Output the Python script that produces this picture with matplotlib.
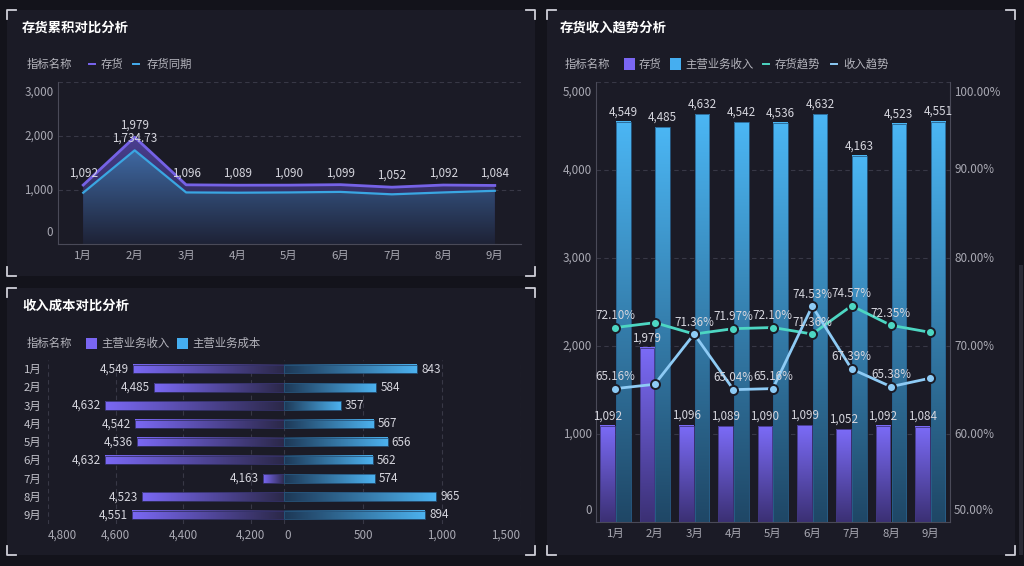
import numpy as np
import matplotlib
matplotlib.use("Agg")
import matplotlib.pyplot as plt
from matplotlib.colors import to_rgba
from matplotlib.patches import Rectangle, Polygon
from matplotlib.lines import Line2D

plt.rcParams['font.family'] = ['Noto Sans CJK SC', 'DejaVu Sans']

W, H = 1024, 566

# ---- данные ----
months = [f"{i}月" for i in range(1, 10)]
inventory = [1092, 1979, 1096, 1089, 1090, 1099, 1052, 1092, 1084]
inventory_ly = [950, 1734.73, 955, 950, 955, 965, 920, 955, 985]
inventory_ly_labels = {1: "1,734.73"}            # остальные подписи скрыты (перекрытие)
revenue = [4549, 4485, 4632, 4542, 4536, 4632, 4163, 4523, 4551]
cost = [843, 584, 357, 567, 656, 562, 574, 965, 894]
inv_trend = [72.10, 72.65, 71.36, 71.97, 72.10, 71.36, 74.57, 72.35, 71.55]
rev_trend = [65.16, 65.65, 71.36, 65.04, 65.16, 74.53, 67.39, 65.38, 66.35]
inv_trend_shown = [0, 2, 3, 4, 5, 6, 7]
rev_trend_shown = [0, 3, 4, 5, 6, 7]

tl_yticks = [0, 1000, 2000, 3000]
bl_left_ticks = [4800, 4600, 4400, 4200]
bl_right_ticks = [0, 500, 1000, 1500]
r_yticks = [0, 1000, 2000, 3000, 4000, 5000]
r_pticks = [50, 60, 70, 80, 90, 100]

BG, PANEL = '#13131b', '#1b1b26'
GRID, SPINE = '#383846', '#4a4a58'
TICK, LABEL, LEG = '#a9a9b3', '#d6d6de', '#b4b4bc'
PURPLE, BLUE, TEAL, LBLUE = '#7a66f2', '#45aef0', '#4dd6c2', '#8ecbf5'
PT = 0.72  # px -> pt при dpi=100
FS = 8.4   # подписи значений и осей

fig = plt.figure(figsize=(W / 100, H / 100), dpi=100, facecolor=BG)


def fx(x):
    return x / W


def fy(y):
    return 1 - y / H


def panel(x0, y0, x1, y1):
    fig.add_artist(Rectangle((fx(x0), fy(y1)), (x1 - x0) / W, (y1 - y0) / H,
                             transform=fig.transFigure, fc=PANEL, ec='none', zorder=-5))
    a = 9
    for cx, cy, sx, sy in [(x0, y0, 1, 1), (x1, y0, -1, 1), (x0, y1, 1, -1), (x1, y1, -1, -1)]:
        fig.add_artist(Line2D([fx(cx), fx(cx), fx(cx + sx * a)], [fy(cy + sy * a), fy(cy), fy(cy)],
                              transform=fig.transFigure, color='#cfcfd8', lw=1.3, zorder=-4))


def title(x, y, s):
    fig.text(fx(x), fy(y), s, color='white', fontsize=9.6, fontweight='bold', va='center', ha='left')


def leg_text(x, y, s):
    fig.text(fx(x), fy(y), s, color=LEG, fontsize=8.2, va='center', ha='left')


def leg_square(x, y, c):
    fig.add_artist(Rectangle((fx(x), fy(y + 5.5)), 11 / W, 11 / H, transform=fig.transFigure,
                             fc=c, ec='none'))


def leg_dash(x, y, c):
    fig.add_artist(Line2D([fx(x), fx(x + 6)], [fy(y), fy(y)], transform=fig.transFigure, color=c, lw=1.4))


def grad_fill(ax, x, y, top, bottom, z):
    c0, c1 = np.array(to_rgba(bottom)), np.array(to_rgba(top))
    t = np.linspace(0, 1, 256)[:, None]
    img = (c0 + (c1 - c0) * t)[:, None, :]
    im = ax.imshow(img, aspect='auto', origin='lower', extent=[x[0], x[-1], 0, max(y)],
                   zorder=z, interpolation='bilinear')
    clip = Polygon(np.column_stack([np.r_[x[0], x, x[-1]], np.r_[0, y, 0]]), closed=True,
                   fc='none', ec='none')
    ax.add_patch(clip)
    im.set_clip_path(clip)


def grad_img(c_from, c_to, vertical):
    c0, c1 = np.array(to_rgba(c_from)), np.array(to_rgba(c_to))
    t = np.linspace(0, 1, 128)[:, None]
    g = c0 + (c1 - c0) * t
    return g[:, None, :] if vertical else g[None, :, :]


def ylab(ax, vals, texts, side='left'):
    n = len(vals)
    for i, (v, s) in enumerate(zip(vals, texts)):
        dy = 8 if i == 0 else (-7.5 if i == n - 1 else 0)
        if side == 'left':
            ax.annotate(s, (0, v), xycoords=('axes fraction', 'data'), xytext=(-3, dy),
                        textcoords='offset points', ha='right', va='center', color=TICK, fontsize=FS)
        else:
            ax.annotate(s, (1, v), xycoords=('axes fraction', 'data'), xytext=(3, dy),
                        textcoords='offset points', ha='left', va='center', color=TICK, fontsize=FS)


for p in [(7, 10, 535, 276), (7, 288, 535, 555), (547, 10, 1015, 555)]:
    panel(*p)
fig.add_artist(Rectangle((fx(1019), fy(555)), 4 / W, 290 / H, transform=fig.transFigure,
                         fc='#2a2a35', ec='none', zorder=-5))

# ---- 存货累积对比分析 ----
title(22, 28, "存货累积对比分析")
leg_text(27, 64, "指标名称")
leg_dash(89, 64, PURPLE)
leg_text(101, 64, "存货")
leg_dash(133, 64, BLUE)
leg_text(147, 64, "存货同期")

x = np.arange(len(months))
ax1 = fig.add_axes([fx(57.5), fy(244), 463 / W, 162 / H], facecolor='none')
grad_fill(ax1, x, inventory, '#4b3f92', '#22213a', 1)
grad_fill(ax1, x, inventory_ly, '#3f69a3', '#1e2236', 2)
ax1.plot(x, inventory, color='#7562e6', lw=2, zorder=4)
ax1.plot(x, inventory_ly, color='#3aa6e2', lw=1.6, zorder=4)
for i, v in enumerate(inventory):
    ax1.annotate(f"{v:,}", (i, v), xytext=(0, 12 * PT), textcoords='offset points',
                 ha='center', va='center', color=LABEL, fontsize=FS, zorder=6)
for i, s in inventory_ly_labels.items():
    ax1.annotate(s, (i, inventory_ly[i]), xytext=(0, 12 * PT), textcoords='offset points',
                 ha='center', va='center', color=LABEL, fontsize=FS, zorder=6)
ax1.set_xlim(-0.5, 8.5)
ax1.set_ylim(0, 3000)
ax1.set_yticks(tl_yticks)
ax1.set_yticklabels([])
ax1.set_xticks(x, months)
ax1.tick_params(length=0, colors=TICK, labelsize=8.2, pad=5)
ax1.grid(axis='y', color=GRID, ls=(0, (4, 3)), lw=0.8)
ax1.set_axisbelow(True)
for k in ['top', 'right']:
    ax1.spines[k].set_visible(False)
for k in ['left', 'bottom']:
    ax1.spines[k].set_color(SPINE)
ylab(ax1, tl_yticks, [f"{v:,}" for v in tl_yticks])

# ---- 收入成本对比分析 ----
title(22, 306, "收入成本对比分析")
leg_text(27, 343, "指标名称")
leg_square(86, 343, PURPLE)
leg_text(101, 343, "主营业务收入")
leg_square(177, 343, BLUE)
leg_text(192, 343, "主营业务成本")

axL = fig.add_axes([fx(48.2), fy(524), 236.2 / W, 164 / H], facecolor='none')
axR = fig.add_axes([fx(284.4), fy(524), 236.1 / W, 164 / H], facecolor='none')
bh = 0.46
L_MIN = 4100
for i, (rv, cv) in enumerate(zip(revenue, cost)):
    axL.imshow(grad_img('#7a68f4', '#2b2848', False), aspect='auto',
               extent=(rv, L_MIN, i + bh / 2, i - bh / 2), zorder=2, interpolation='bilinear')
    axL.add_patch(Rectangle((L_MIN, i - bh / 2), rv - L_MIN, bh, fc='none', ec='#35326a', lw=0.6, zorder=3))
    axL.annotate(f"{rv:,}", (rv, i), xytext=(-3, 0), textcoords='offset points', ha='right',
                 va='center', color=LABEL, fontsize=FS)
    axR.imshow(grad_img('#1d3856', '#4cb1ee', False), aspect='auto',
               extent=(0, cv, i + bh / 2, i - bh / 2), zorder=2, interpolation='bilinear')
    axR.add_patch(Rectangle((0, i - bh / 2), cv, bh, fc='none', ec='#27567e', lw=0.6, zorder=3))
    axR.annotate(f"{cv:,}", (cv, i), xytext=(3, 0), textcoords='offset points', ha='left',
                 va='center', color=LABEL, fontsize=FS)
axL.set_xlim(4800, L_MIN)
axR.set_xlim(0, 1500)
for a in (axL, axR):
    a.set_ylim(8.5, -0.5)
    for s in a.spines.values():
        s.set_visible(False)
    a.grid(axis='x', color=GRID, ls=(0, (4, 3)), lw=0.8)
    a.set_axisbelow(True)
    a.tick_params(length=0, labelbottom=False)
axL.set_xticks(bl_left_ticks)
axR.set_xticks(bl_right_ticks)
axL.set_yticks(x, months)
axL.tick_params(axis='y', colors='#c4c4cc', labelsize=8.2, pad=5)
axR.set_yticks([])
for j, v in enumerate(bl_left_ticks):
    axL.annotate(f"{v:,}", (v, 0), xycoords=('data', 'axes fraction'), xytext=(0, -11.5 * PT),
                 textcoords='offset points', ha='left' if j == 0 else 'center', va='center',
                 color=TICK, fontsize=FS)
for j, v in enumerate(bl_right_ticks):
    ha = 'left' if j == 0 else ('right' if j == len(bl_right_ticks) - 1 else 'center')
    axR.annotate(f"{v:,}", (v, 0), xycoords=('data', 'axes fraction'), xytext=(0, -11.5 * PT),
                 textcoords='offset points', ha=ha, va='center', color=TICK, fontsize=FS)

# ---- 存货收入趋势分析 ----
title(560, 28, "存货收入趋势分析")
leg_text(565, 64, "指标名称")
leg_square(624, 64, PURPLE)
leg_text(639, 64, "存货")
leg_square(670, 64, BLUE)
leg_text(685, 64, "主营业务收入")
leg_dash(763, 64, TEAL)
leg_text(775, 64, "存货趋势")
leg_dash(831, 64, LBLUE)
leg_text(843, 64, "收入趋势")

ax3 = fig.add_axes([fx(595.7), fy(522), 354.3 / W, 440 / H], facecolor='none')
bw, off = 0.37, 0.2
for i, (iv, rv) in enumerate(zip(inventory, revenue)):
    ax3.imshow(grad_img('#3b3074', '#7b6bf7', True), aspect='auto', origin='lower',
               extent=(i - off - bw / 2, i - off + bw / 2, 0, iv), zorder=2, interpolation='bilinear')
    ax3.add_patch(Rectangle((i - off - bw / 2, 0), bw, iv, fc='none', ec='#40367f', lw=0.6, zorder=3))
    ax3.imshow(grad_img('#1f4766', '#4bb6f4', True), aspect='auto', origin='lower',
               extent=(i + off - bw / 2, i + off + bw / 2, 0, rv), zorder=2, interpolation='bilinear')
    ax3.add_patch(Rectangle((i + off - bw / 2, 0), bw, rv, fc='none', ec='#285f8a', lw=0.6, zorder=3))
    ax3.annotate(f"{iv:,}", (i - off, iv), xytext=(0, 10 * PT), textcoords='offset points',
                 ha='center', va='center', color=LABEL, fontsize=FS, zorder=5)
    ax3.annotate(f"{rv:,}", (i + off, rv), xytext=(0, 10 * PT), textcoords='offset points',
                 ha='center', va='center', color=LABEL, fontsize=FS, zorder=5)
ax3.set_xlim(-0.5, 8.5)
ax3.set_ylim(0, 5000)
ax3.set_yticks(r_yticks)
ax3.set_yticklabels([])
ax3.set_xticks(x, months)
ax3.tick_params(length=0, colors=TICK, labelsize=8.2, pad=5)
ax3.grid(axis='y', color=GRID, ls=(0, (4, 3)), lw=0.8)
ax3.set_axisbelow(True)
ax3.spines['top'].set_visible(False)
for k in ['left', 'bottom', 'right']:
    ax3.spines[k].set_color(SPINE)
ylab(ax3, r_yticks, [f"{v:,}" for v in r_yticks])

ax4 = ax3.twinx()
ax4.set_facecolor('none')
ax4.plot(x, inv_trend, color=TEAL, lw=2, marker='o', ms=6.5, mfc=TEAL, mec='#1b1b26', mew=1.4, zorder=4)
ax4.plot(x, rev_trend, color=LBLUE, lw=2, marker='o', ms=6.5, mfc=LBLUE, mec='#1b1b26', mew=1.4, zorder=4)
for i in inv_trend_shown:
    ax4.annotate(f"{inv_trend[i]:.2f}%", (i, inv_trend[i]), xytext=(0, 12 * PT), textcoords='offset points',
                 ha='center', va='center', color=LABEL, fontsize=FS, zorder=6)
for i in rev_trend_shown:
    ax4.annotate(f"{rev_trend[i]:.2f}%", (i, rev_trend[i]), xytext=(0, 12 * PT), textcoords='offset points',
                 ha='center', va='center', color=LABEL, fontsize=FS, zorder=6)
ax4.set_ylim(50, 100)
ax4.set_yticks(r_pticks)
ax4.set_yticklabels([])
ax4.tick_params(length=0)
for s in ax4.spines.values():
    s.set_visible(False)
ylab(ax4, r_pticks, [f"{v:.2f}%" for v in r_pticks], side='right')

fig.savefig("out.png", dpi=100, facecolor=BG)
